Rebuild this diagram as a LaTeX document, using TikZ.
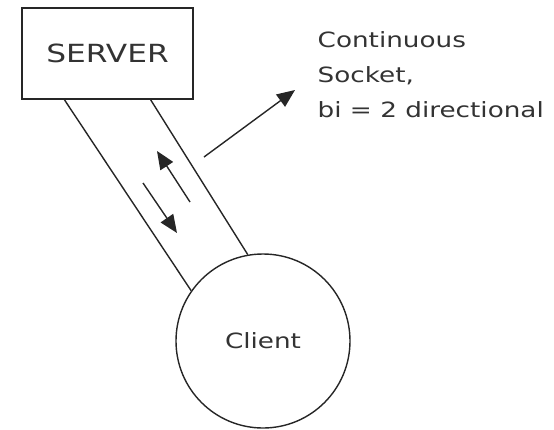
\documentclass[tikz,border=0pt]{standalone}
\usepackage{fontspec}
\usepackage{tikz}
\usetikzlibrary{
	arrows.meta,
	positioning,
	calc
}
\newfontfamily\handfont[FakeStretch=1.25]{DejaVu Sans}

\begin{document}
\begin{tikzpicture}[
		x=1pt, y=-1pt,
		line width=1.4pt,
		box/.style={draw=black!85, rectangle, minimum width=171pt, minimum height=91pt, font=\handfont\fontsize{25}{28}\selectfont, text=black!80},
		host/.style={draw=black!85, circle, minimum size=174pt, font=\handfont\fontsize{21}{24}\selectfont, text=black!80},
		note/.style={align=left, inner sep=0pt, font=\handfont\fontsize{21}{35}\selectfont, text=black!80},
		wall/.style={draw=black!85},
		arr/.style={-{Triangle[length=18pt, width=15pt]}, draw=black!85}
	]
	\useasboundingbox (0,0) rectangle (554,429);
	\node[box] (srv) at (107.5,53.5) {SERVER};
	\node[host] (cli) at (263,341) {Client};
	\node[note, anchor=north west] (lbl) at (317,31)
	{Continuous\\ Socket,\\ bi = 2 directional};
	% the two walls of the socket
	\draw[wall] ($(srv.south west)!0.25!(srv.south east)$) -- (cli.145);
	\draw[wall] ($(srv.south west)!0.75!(srv.south east)$) -- (cli.100);
	% traffic both ways
	\coordinate (upA) at (190,202); \coordinate (upB) at (157,151);
	\coordinate (dnA) at (143,183); \coordinate (dnB) at (177,233);
	\draw[arr] (upA) -- (upB); \draw[arr] (dnA) -- (dnB);
	% pointer to the note
	\coordinate (ptA) at (204,157); \coordinate (ptB) at (295,90);
	\draw[arr] (ptA) -- (ptB);
\end{tikzpicture}
\end{document}
